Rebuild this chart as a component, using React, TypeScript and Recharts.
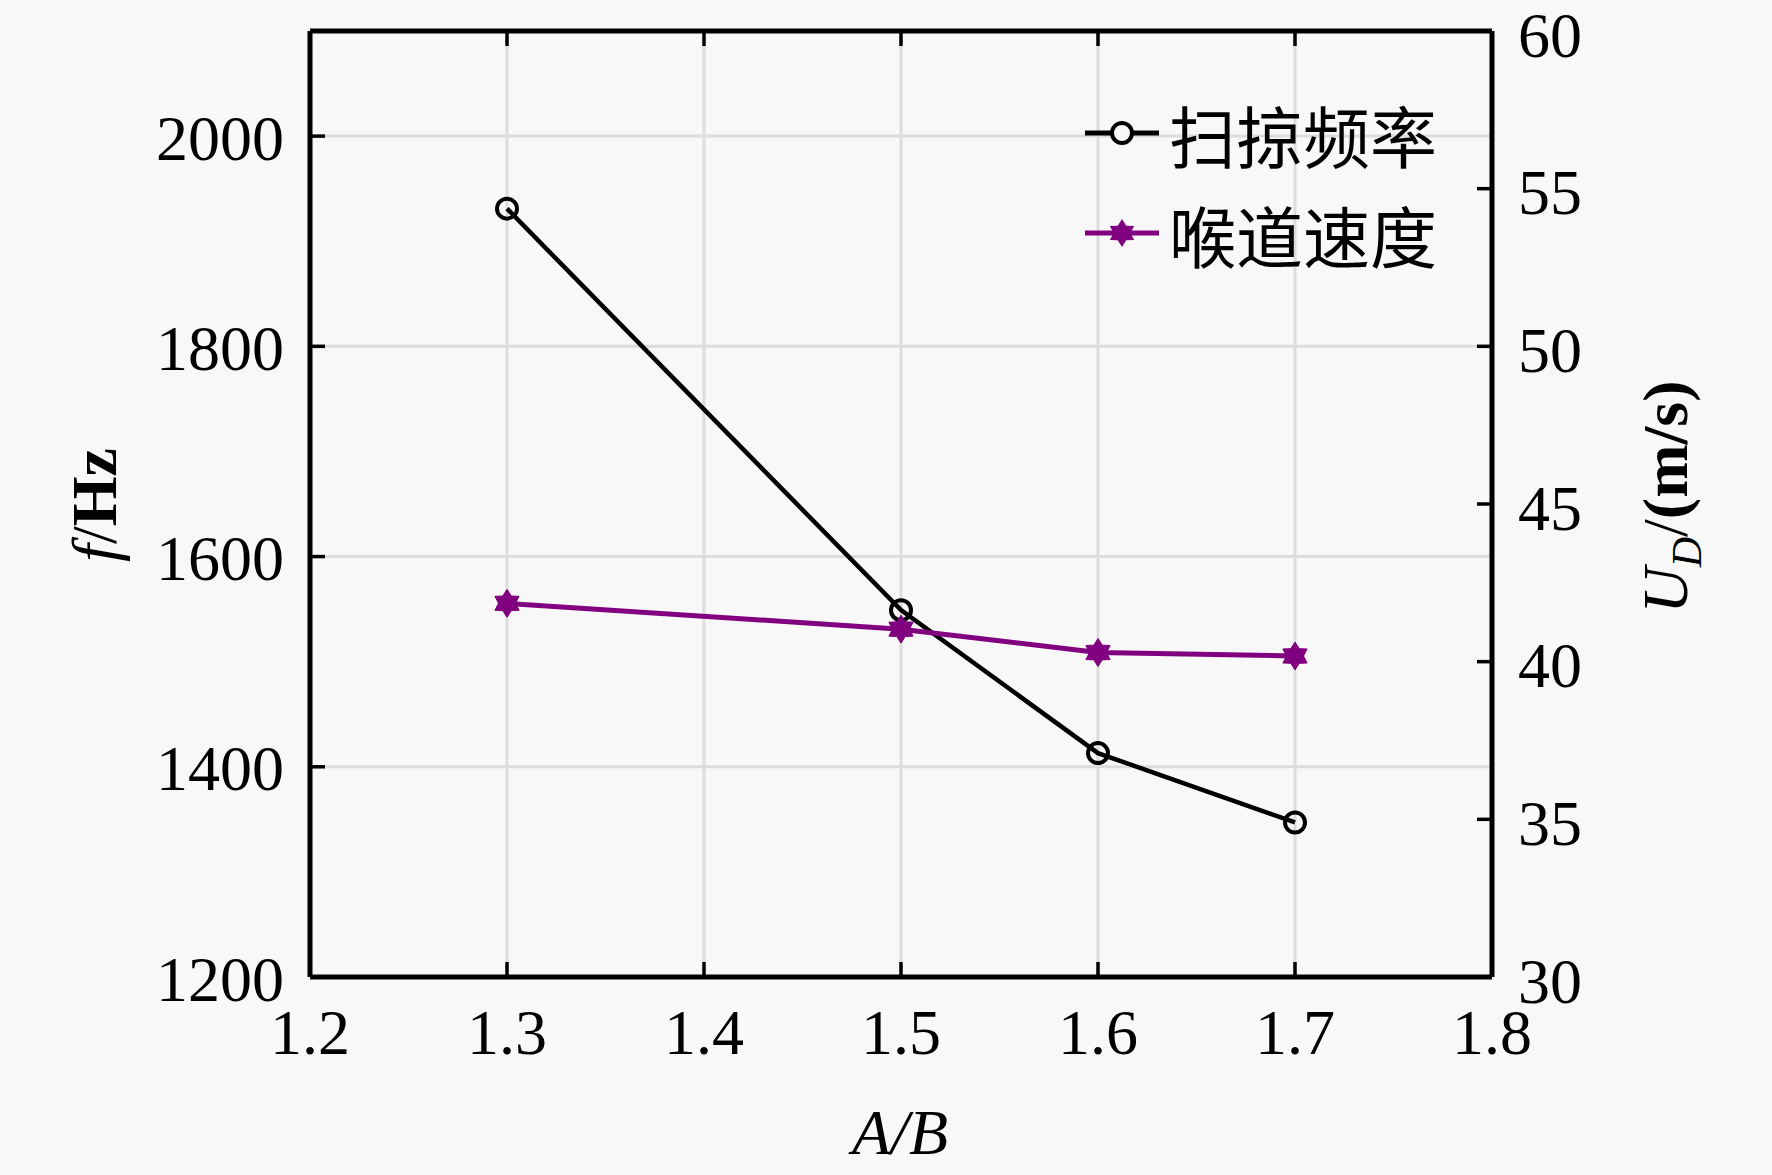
import { CartesianGrid, ComposedChart, Line, ReferenceLine, XAxis, YAxis } from 'recharts'

const ratios = [1.3, 1.5, 1.6, 1.7]
const sweepFreq = [1931, 1549, 1413, 1347]
const throatVel = [41.85, 41.03, 40.29, 40.18]

const xTicks = [1.2, 1.3, 1.4, 1.5, 1.6, 1.7, 1.8]
const freqTicks = [1200, 1400, 1600, 1800, 2000]
const velTicks = [30, 35, 40, 45, 50, 55, 60]

const seriesNames = ['扫掠频率', '喉道速度']

const W = 1772
const H = 1175
const PL = 310
const PR = 1492
const PT = 31
const PB = 977
const BG = '#f8f8f8'
const PURPLE = '#800080'
const SERIF = '"Liberation Serif", "Times New Roman", serif'
const CJK = '"Noto Sans CJK SC", sans-serif'
const FS = 64
const TICK = 15
const FRAME = 5

const data = ratios.map((r, i) => ({ ratio: r, freq: sweepFreq[i], vel: throatVel[i] }))

function BottomTick({ x, payload }: any) {
  return (
    <g>
      <line x1={x} x2={x} y1={PB} y2={PB - TICK} stroke="#000" strokeWidth={3.5} />
      <text x={x} y={PB + 55} textAnchor="middle" dominantBaseline="central" fontFamily={SERIF} fontSize={FS} fill="#000">
        {payload.value.toFixed(1)}
      </text>
    </g>
  )
}

function TopTick({ x, payload }: any) {
  if (payload.value <= 1.2 || payload.value >= 1.8) return null
  return <line x1={x} x2={x} y1={PT} y2={PT + TICK} stroke="#000" strokeWidth={3.5} />
}

function LeftTick({ y, payload }: any) {
  return (
    <g>
      <line x1={PL} x2={PL + TICK} y1={y} y2={y} stroke="#000" strokeWidth={3.5} />
      <text x={PL - 26} y={y + 2} textAnchor="end" dominantBaseline="central" fontFamily={SERIF} fontSize={FS} fill="#000">
        {payload.value}
      </text>
    </g>
  )
}

function RightTick({ y, payload }: any) {
  return (
    <g>
      <line x1={PR - TICK} x2={PR} y1={y} y2={y} stroke="#000" strokeWidth={3.5} />
      <text x={PR + 26} y={y + 4} textAnchor="start" dominantBaseline="central" fontFamily={SERIF} fontSize={FS} fill="#000">
        {payload.value}
      </text>
    </g>
  )
}

function CircleDot({ cx, cy }: any) {
  return <circle cx={cx} cy={cy} r={10} fill="none" stroke="#000" strokeWidth={4} />
}

function starPoints(cx: number, cy: number, R: number, r: number) {
  const pts: string[] = []
  for (let k = 0; k < 12; k++) {
    const a = ((-90 + k * 30) * Math.PI) / 180
    const rad = k % 2 === 0 ? R : r
    pts.push(`${cx + rad * Math.cos(a)},${cy + rad * Math.sin(a)}`)
  }
  return pts.join(' ')
}

function StarDot({ cx, cy }: any) {
  return <polygon points={starPoints(cx, cy, 14, 8.5)} fill={PURPLE} stroke={PURPLE} strokeWidth={1} />
}

function LegendBox() {
  return (
    <div style={{ position: 'absolute', left: 1083, top: 83, display: 'flex', flexDirection: 'column' }}>
      <div style={{ display: 'flex', alignItems: 'center', height: 100 }}>
        <svg width={80} height={40}>
          <line x1={2} x2={76} y1={20} y2={20} stroke="#000" strokeWidth={5} />
          <circle cx={39} cy={20} r={10} fill={BG} stroke="#000" strokeWidth={4} />
        </svg>
        <span style={{ fontFamily: CJK, fontSize: 67, marginLeft: 6, lineHeight: 1 }}>{seriesNames[0]}</span>
      </div>
      <div style={{ display: 'flex', alignItems: 'center', height: 100 }}>
        <svg width={80} height={40}>
          <line x1={2} x2={76} y1={20} y2={20} stroke={PURPLE} strokeWidth={5} />
          <polygon points={starPoints(39, 20, 14, 8.5)} fill={PURPLE} />
        </svg>
        <span style={{ fontFamily: CJK, fontSize: 67, marginLeft: 6, lineHeight: 1 }}>{seriesNames[1]}</span>
      </div>
    </div>
  )
}

export default function App() {
  return (
    <div style={{ position: 'absolute', left: 0, top: 0, width: W, height: H, background: BG }}>
      <ComposedChart
        width={W}
        height={H}
        data={data}
        margin={{ top: PT - 1, right: W - PR - 220, left: PL - 200, bottom: H - PB - 150 }}
      >
        <CartesianGrid xAxisId="bottom" yAxisId="left" stroke="#dcdcdc" strokeWidth={3} />
        <XAxis
          xAxisId="bottom"
          dataKey="ratio"
          type="number"
          domain={[1.2, 1.8]}
          ticks={xTicks}
          height={150}
          axisLine={{ stroke: '#000', strokeWidth: FRAME }}
          tickLine={false}
          tick={<BottomTick />}
          interval={0}
        />
        <XAxis
          xAxisId="top"
          orientation="top"
          dataKey="ratio"
          type="number"
          domain={[1.2, 1.8]}
          ticks={xTicks}
          height={1}
          axisLine={false}
          tickLine={false}
          tick={<TopTick />}
          interval={0}
        />
        <YAxis
          yAxisId="left"
          type="number"
          domain={[1200, 2100]}
          ticks={freqTicks}
          width={200}
          axisLine={{ stroke: '#000', strokeWidth: FRAME }}
          tickLine={false}
          tick={<LeftTick />}
          interval={0}
        />
        <YAxis
          yAxisId="right"
          orientation="right"
          type="number"
          domain={[30, 60]}
          ticks={velTicks}
          width={220}
          axisLine={{ stroke: '#000', strokeWidth: FRAME }}
          tickLine={false}
          tick={<RightTick />}
          interval={0}
        />
        <ReferenceLine xAxisId="bottom" yAxisId="left" y={2100} stroke="#000" strokeWidth={FRAME} />
        <Line
          xAxisId="bottom"
          yAxisId="left"
          dataKey="freq"
          name={seriesNames[0]}
          stroke="#000"
          strokeWidth={4.5}
          dot={<CircleDot />}
          activeDot={false}
          isAnimationActive={false}
        />
        <Line
          xAxisId="bottom"
          yAxisId="right"
          dataKey="vel"
          name={seriesNames[1]}
          stroke={PURPLE}
          strokeWidth={5}
          dot={<StarDot />}
          activeDot={false}
          isAnimationActive={false}
        />
      </ComposedChart>
      <LegendBox />
      <div
        style={{
          position: 'absolute',
          left: 900,
          top: 1133,
          transform: 'translate(-50%, -50%)',
          fontFamily: SERIF,
          fontSize: FS,
          fontStyle: 'italic',
          whiteSpace: 'nowrap',
        }}
      >
        A/B
      </div>
      <div
        style={{
          position: 'absolute',
          left: 95,
          top: 505,
          transform: 'translate(-50%, -50%) rotate(-90deg)',
          fontFamily: SERIF,
          fontSize: FS,
          whiteSpace: 'nowrap',
        }}
      >
        <i>f</i>/<b>Hz</b>
      </div>
      <div
        style={{
          position: 'absolute',
          left: 1670,
          top: 497,
          transform: 'translate(-50%, -50%) rotate(-90deg)',
          fontFamily: SERIF,
          fontSize: FS,
          whiteSpace: 'nowrap',
        }}
      >
        <i>U</i>
        <sub style={{ fontSize: 42, fontStyle: 'italic' }}>D</sub>/<b>(m/s)</b>
      </div>
    </div>
  )
}
